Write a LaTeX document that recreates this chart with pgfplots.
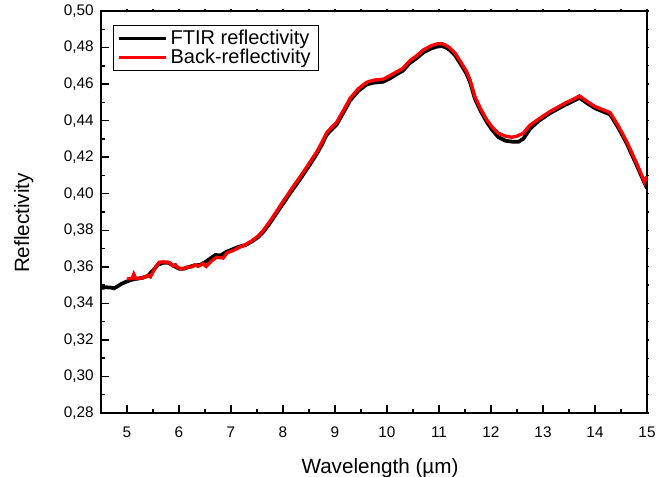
\documentclass[border=0pt]{standalone}
\usepackage{fontspec}
\setmainfont{Liberation Sans}
\usepackage{pgfplots}
\pgfplotsset{compat=1.18}
\pgfplotsset{
  myframe/.style={
    scale only axis, width=409.5pt, height=301.5pt,
    xmin=4.5, xmax=15, ymin=0.28, ymax=0.50,
  }
}
\begin{document}
\begin{tikzpicture}
% outer short ticks on top and right
\begin{axis}[
  myframe,
  axis lines=box, axis line style={draw=none},
  xtick={5,5.5,...,15}, ytick={0.28,0.29,...,0.50},
  xticklabels={}, yticklabels={},
  tick align=outside, xtick pos=top, ytick pos=right,
  major tick length=1.8pt,
  every tick/.style={black, line width=0.9pt},
]
\end{axis}
\begin{axis}[
  myframe,
  xtick={5,6,...,15}, minor x tick num=1,
  ytick={0.28,0.30,...,0.50}, minor y tick num=1,
  tick align=inside, xtick pos=bottom, ytick pos=left,
  major tick length=6pt, minor tick length=3pt,
  /pgf/number format/assume math mode=true,
  yticklabel style={xshift=-2pt, /pgf/number format/fixed, /pgf/number format/fixed zerofill, /pgf/number format/precision=2, /pgf/number format/use comma},
  ticklabel style={font=\fontsize{11.5}{13}\selectfont},
  xticklabel style={yshift=-7pt},
  xlabel={Wavelength (µm)}, ylabel={Reflectivity},
  label style={font=\fontsize{15.5}{17}\selectfont},
  xlabel style={at={(axis description cs:0.511,-0.1368)}, anchor=center},
  ylabel style={at={(axis description cs:-0.1416,0.4726)}, anchor=center},
  axis line style={line width=1.4pt},
  every tick/.style={black, line width=1.1pt},
  legend style={at={(0.022,0.965)}, anchor=north west, draw=black, line width=0.6pt,
    font=\fontsize{15}{17}\selectfont, row sep=-3pt, inner xsep=3pt, inner ysep=1pt,
    nodes={inner sep=2.5pt}},
  legend cell align=left,
  legend image code/.code={\draw[#1, line width=2.4pt] (0pt,0pt) -- (35pt,0pt);},
]
\addplot[black, line width=2.8pt] coordinates {
(4.5,0.3484)(4.6,0.3488)(4.7,0.3486)(4.75,0.3482)(4.8,0.3490)(4.9,0.3508)(5.0,0.3520)(5.1,0.3530)(5.2,0.3535)(5.3,0.3540)(5.4,0.3550)(5.5,0.3580)(5.6,0.3612)(5.7,0.3622)(5.8,0.3622)(5.9,0.3605)(6.0,0.3590)(6.1,0.3590)(6.2,0.3600)(6.3,0.3608)(6.4,0.3610)(6.5,0.3625)(6.6,0.3645)(6.7,0.3665)(6.8,0.3662)(6.9,0.3680)(7.0,0.3692)(7.15,0.3710)(7.27,0.3718)(7.4,0.3738)(7.52,0.3762)(7.62,0.3790)(7.75,0.3840)(7.88,0.3895)(8.0,0.3945)(8.15,0.4008)(8.33,0.4080)(8.5,0.4152)(8.65,0.4218)(8.75,0.4270)(8.84,0.4322)(8.93,0.4350)(9.03,0.4378)(9.15,0.4438)(9.29,0.4510)(9.45,0.4563)(9.61,0.4598)(9.75,0.4608)(9.93,0.4613)(10.05,0.4630)(10.19,0.4655)(10.3,0.4672)(10.44,0.4715)(10.57,0.4742)(10.70,0.4773)(10.85,0.4795)(10.96,0.4805)(11.05,0.4808)(11.12,0.4802)(11.2,0.4788)(11.31,0.4757)(11.42,0.4708)(11.53,0.4656)(11.6,0.4608)(11.69,0.4520)(11.8,0.4453)(11.92,0.4392)(12.02,0.4350)(12.14,0.4310)(12.28,0.4290)(12.40,0.4285)(12.53,0.4285)(12.62,0.4300)(12.75,0.4355)(12.91,0.4397)(13.13,0.4440)(13.42,0.4485)(13.6,0.4510)(13.70,0.4525)(13.85,0.4495)(14.0,0.4468)(14.15,0.4450)(14.29,0.4434)(14.45,0.4360)(14.61,0.4275)(14.80,0.4157)(14.95,0.4060)(15.0,0.4030)
};
\addlegendentry{FTIR reflectivity}
\addplot[red, line width=2.5pt] coordinates {
(5.0,0.3533)(5.1,0.3538)(5.13,0.3560)(5.17,0.3535)(5.3,0.3540)(5.4,0.3552)(5.45,0.3545)(5.55,0.3600)(5.62,0.3625)(5.7,0.3627)(5.8,0.3625)(5.88,0.3605)(5.93,0.3612)(5.98,0.3595)(6.06,0.3588)(6.15,0.3598)(6.25,0.3600)(6.3,0.3610)(6.37,0.3603)(6.46,0.3618)(6.52,0.3602)(6.62,0.3630)(6.72,0.3652)(6.79,0.3650)(6.85,0.3648)(6.92,0.3676)(7.05,0.3690)(7.15,0.3705)(7.27,0.3720)(7.4,0.3742)(7.52,0.3768)(7.62,0.3798)(7.75,0.3850)(7.88,0.3905)(8.0,0.3957)(8.15,0.4020)(8.33,0.4093)(8.5,0.4165)(8.65,0.4230)(8.75,0.4282)(8.84,0.4334)(8.93,0.4362)(9.03,0.4390)(9.15,0.4450)(9.29,0.4522)(9.45,0.4575)(9.61,0.4610)(9.75,0.4622)(9.93,0.4627)(10.05,0.4645)(10.19,0.4668)(10.3,0.4685)(10.44,0.4728)(10.57,0.4755)(10.70,0.4787)(10.85,0.4810)(10.96,0.4820)(11.05,0.4822)(11.12,0.4814)(11.2,0.4800)(11.31,0.4769)(11.42,0.4720)(11.53,0.4668)(11.6,0.4620)(11.69,0.4531)(11.8,0.4465)(11.92,0.4404)(12.02,0.4365)(12.14,0.4331)(12.28,0.4315)(12.40,0.4309)(12.5,0.4315)(12.62,0.4331)(12.75,0.4375)(12.91,0.4407)(13.13,0.4449)(13.42,0.4495)(13.6,0.4520)(13.70,0.4535)(13.85,0.4505)(14.0,0.4477)(14.15,0.4460)(14.29,0.4444)(14.45,0.4370)(14.61,0.4285)(14.80,0.4167)(14.95,0.4065)(15.0,0.4095)
};
\addlegendentry{Back-reflectivity}
\end{axis}
\pgfresetboundingbox
\path ([shift={(-75.75pt,-48pt)}]current axis.south west) rectangle ([shift={(18.75pt,8.25pt)}]current axis.north east);
\end{tikzpicture}
\end{document}
